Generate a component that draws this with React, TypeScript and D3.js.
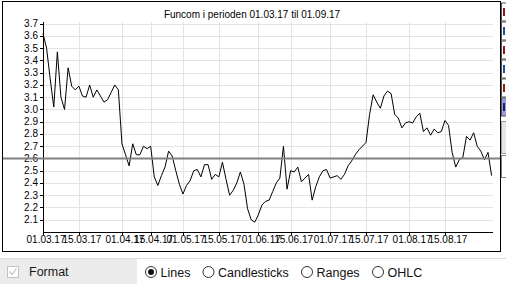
import React from "react";
import * as d3 from "d3";

const title = "Funcom i perioden 01.03.17 til 01.09.17";

// closing price per trading day, 01.03.17 .. 01.09.17
const prices = [
  3.62, 3.5, 3.25, 3.02, 3.47, 3.1, 3.0, 3.34, 3.19, 3.16,
  3.19, 3.11, 3.1, 3.2, 3.1, 3.16, 3.11, 3.06, 3.08, 3.14,
  3.2, 3.16, 2.72, 2.63, 2.54, 2.72, 2.63, 2.63, 2.7, 2.68,
  2.7, 2.45, 2.38, 2.46, 2.53, 2.66, 2.62, 2.5, 2.39, 2.31,
  2.38, 2.42, 2.5, 2.51, 2.45, 2.55, 2.55, 2.43, 2.47, 2.45,
  2.57, 2.43, 2.3, 2.34, 2.4, 2.49, 2.39, 2.19, 2.1, 2.08,
  2.14, 2.22, 2.25, 2.26, 2.33, 2.4, 2.44, 2.7, 2.35, 2.5,
  2.49, 2.53, 2.41, 2.44, 2.47, 2.26, 2.37, 2.45, 2.5, 2.51,
  2.44, 2.45, 2.46, 2.43, 2.47, 2.54, 2.58, 2.63, 2.67, 2.7,
  2.73, 2.96, 3.12, 3.06, 3.01, 3.11, 3.15, 3.13, 2.96, 2.93,
  2.85, 2.89, 2.9, 2.89, 2.94, 2.97, 2.82, 2.85, 2.79, 2.84,
  2.81, 2.82, 2.91, 2.87, 2.65, 2.53, 2.59, 2.61, 2.78, 2.75,
  2.81, 2.7, 2.66, 2.59, 2.65, 2.46,
];

// trading-day index of each date tick
const tickIndex = [0, 10, 22, 30, 39, 49, 60, 69, 80, 90, 102, 112];
const tickLabels = [
  "01.03.17", "15.03.17", "01.04.17", "15.04.17", "01.05.17", "15.05.17",
  "01.06.17", "15.06.17", "01.07.17", "15.07.17", "01.08.17", "15.08.17",
];
const yTicks = [2.1, 2.2, 2.3, 2.4, 2.5, 2.6, 2.7, 2.8, 2.9, 3.0, 3.1, 3.2, 3.3, 3.4, 3.5, 3.6, 3.7];
const referenceLevel = 2.6;

const chartTypes = ["Lines", "Candlesticks", "Ranges", "OHLC"];
const chartTypeX = [151, 208.5, 307, 378];

const sideGlyphColors = ["#8b1a1a", "#1f4e9a", "#8b1a1a", "#1f4e9a", "#8b1a1a", "#202060"];

const FONT = "'Liberation Sans', Arial, sans-serif";

export default function App() {
  const x = d3.scaleLinear().domain([0, prices.length - 1]).range([43, 491.6]);
  const y = d3.scaleLinear().domain([2.0, 3.714]).range([232, 22]);
  const line = d3
    .line<number>()
    .x((_, i) => x(i))
    .y((d) => y(d));
  const plotRight = 493;

  return (
    <div style={{ position: "fixed", left: 0, top: 0, width: 506, height: 284, background: "#fff" }}>
      <svg width={506} height={284} style={{ display: "block" }}>
        {/* frame */}
        <rect x={2.5} y={1.5} width={498} height={250} fill="#fff" stroke="#000" strokeWidth={1} />
        {/* grid */}
        {yTicks.map((t) => (
          <line key={"gy" + t} x1={43} x2={plotRight} y1={Math.round(y(t)) + 0.5} y2={Math.round(y(t)) + 0.5} stroke="#e4e4e4" />
        ))}
        {tickIndex.map((t) => (
          <line key={"gx" + t} x1={Math.round(x(t)) + 0.5} x2={Math.round(x(t)) + 0.5} y1={22} y2={232} stroke="#e4e4e4" />
        ))}
        {/* title */}
        <text x={252} y={18} textAnchor="middle" fontFamily={FONT} fontSize={10} fill="#000">
          {title}
        </text>
        {/* y axis */}
        <line x1={43.5} x2={43.5} y1={22} y2={232} stroke="#000" />
        {yTicks.map((t) => (
          <g key={"yt" + t}>
            <line x1={40} x2={43} y1={Math.round(y(t)) + 0.5} y2={Math.round(y(t)) + 0.5} stroke="#000" />
            <text x={38} y={y(t) + 3.5} textAnchor="end" fontFamily={FONT} fontSize={10} fill="#000">
              {t.toFixed(1)}
            </text>
          </g>
        ))}
        {/* x axis */}
        <line x1={43} x2={plotRight} y1={232.5} y2={232.5} stroke="#000" />
        {tickIndex.map((t, i) => (
          <g key={"xt" + t}>
            <line x1={Math.round(x(t)) + 0.5} x2={Math.round(x(t)) + 0.5} y1={232} y2={235} stroke="#000" />
            <text x={x(t) + 3} y={242.5} textAnchor="middle" fontFamily={FONT} fontSize={10} fill="#000">
              {tickLabels[i]}
            </text>
          </g>
        ))}
        {/* price line */}
        <path d={line(prices) || ""} fill="none" stroke="#000" strokeWidth={1} />
        {/* reference level */}
        <line x1={3} x2={500} y1={y(referenceLevel)} y2={y(referenceLevel)} stroke="#808080" strokeWidth={2} />

        {/* right-side panel (partially visible) */}
        {sideGlyphColors.map((c, i) => (
          <g key={"sp" + i}>
            <rect x={501.5} y={3 + i * 19} width={6} height={18} fill={i === 5 ? "#9a9ae0" : "#fff"} stroke="#555" />
            <rect x={503} y={8 + i * 19} width={2} height={8} fill={c} />
          </g>
        ))}
        <rect x={501.5} y={121.5} width={6} height={32} fill="#e6e6e6" stroke="#a0a0a0" />
        <rect x={501.5} y={155.5} width={6} height={22} fill="#fff" stroke="#808080" />

        {/* bottom controls */}
        <line x1={0} x2={506} y1={258.5} y2={258.5} stroke="#dcdcdc" />
        <rect x={0} y={259} width={137} height={25} fill="#ececec" />
        <rect x={7.5} y={266.5} width={11} height={11} fill="#fff" stroke="#c4c4c4" />
        <path d="M9.5 271.5 L12 274.5 L16.5 268.5" fill="none" stroke="#c4c4c4" strokeWidth={1.2} />
        <text x={29} y={276} fontFamily={FONT} fontSize={12.5} fill="#1a1a1a">
          Format
        </text>
        {chartTypes.map((t, i) => (
          <g key={t}>
            <circle cx={chartTypeX[i]} cy={272} r={5.5} fill="#fff" stroke="#333" />
            {i === 0 && <circle cx={chartTypeX[i]} cy={272} r={3} fill="#111" />}
            <text x={chartTypeX[i] + 9.5} y={276.5} fontFamily={FONT} fontSize={12.5} fill="#111">
              {t}
            </text>
          </g>
        ))}
      </svg>
    </div>
  );
}
